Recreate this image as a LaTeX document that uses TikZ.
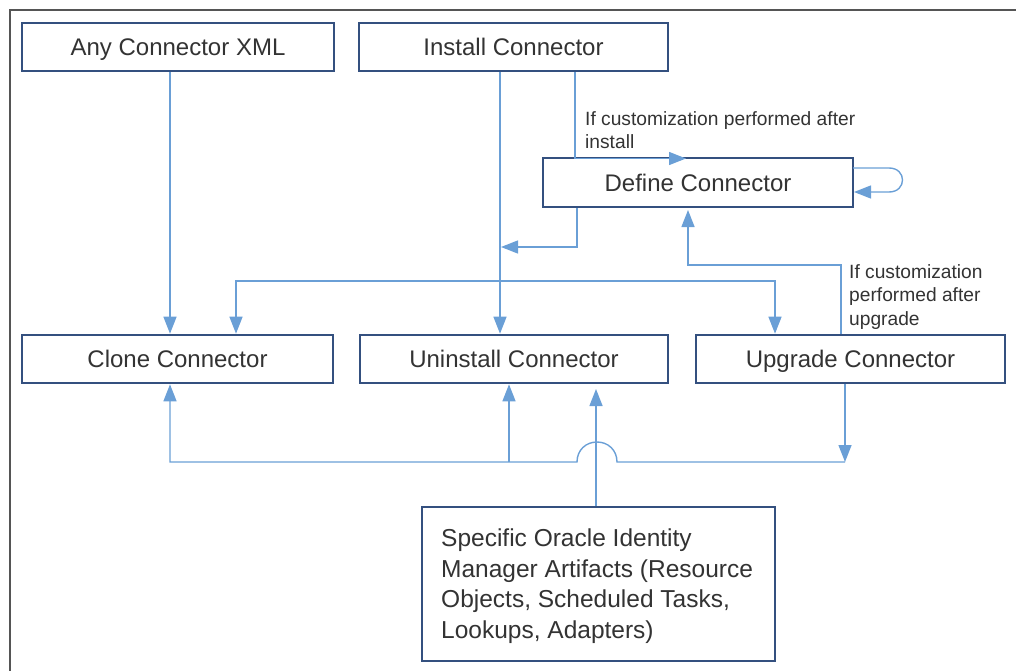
\documentclass[tikz,border=0pt]{standalone}
\usepackage{fontspec}
\setmainfont{Liberation Sans}
\usetikzlibrary{arrows.meta,calc}
\definecolor{boxline}{HTML}{34507F}
\definecolor{conncol}{HTML}{6A9FD6}
\definecolor{txt}{HTML}{333333}
\definecolor{frame}{HTML}{555555}
\tikzset{
  boxnode/.style={draw=boxline, line width=2.6pt, fill=white, minimum height=48pt, inner sep=0pt,
    text=txt, font=\fontsize{24}{28}\selectfont, text height=17.2pt, text depth=0pt},
  conn/.style={draw=conncol, line width=1.4pt},
  tip/.style={-{Triangle[length=17pt,width=13pt]}},
  lbl/.style={text=txt, font=\fontsize{19.2}{23.5}\selectfont, align=left, inner sep=0pt}
}
\begin{document}
\begin{tikzpicture}[x=1pt,y=-1pt]
\useasboundingbox (0,0) rectangle (1016,671);
\draw[frame, line width=1.5pt] (10,671) -- (10,10) -- (1016,10);

\node[boxnode, minimum width=312pt] (anyxml) at (178,47) {Any Connector XML};
\node[boxnode, minimum width=309pt] (install) at (513.5,47) {Install Connector};
\node[boxnode, minimum width=310pt, minimum height=49pt] (define) at (698,182.5) {Define Connector};
\node[boxnode, minimum width=311pt] (clone) at (177.5,359) {Clone Connector};
\node[boxnode, minimum width=308pt] (uninstall) at (514,359) {Uninstall Connector};
\node[boxnode, minimum width=309pt] (upgrade) at (850.5,359) {Upgrade Connector};
\node[boxnode, minimum width=353pt, minimum height=154pt] (specific) at (598.5,584) {};
\node[text=txt, align=left, anchor=north west, inner sep=0pt,
      font=\fontsize{24.5}{30.5}\selectfont] (spectext) at (441,529)
  {Specific Oracle Identity\\Manager Artifacts (Resource\\Objects, Scheduled Tasks,\\Lookups, Adapters)};

% x positions
\coordinate (xa) at (170,0);
\coordinate (xb) at (236,0);
\coordinate (xc) at (500,0);
\coordinate (xd) at (575,0);
\coordinate (xe) at (577,0);
\coordinate (xf) at (688,0);
\coordinate (xg) at (775,0);
\coordinate (xh) at (841,0);
\coordinate (xi) at (845,0);
\coordinate (xj) at (509,0);
\coordinate (xk) at (596,0);
% junctions
\coordinate (br) at (500,281);
\coordinate (dtip) at (686,158.5);
\coordinate (dleft) at (501,247);
\coordinate (uu) at (841,265);
\coordinate (ftip) at (688,210);
\coordinate (lo1) at (853,168);
\coordinate (lo2) at (854,192);
\coordinate (busR) at (845,462);
\coordinate (busJ) at (509,462);
\coordinate (ktip) at (596,389);

% connectors
\draw[conn,tip] (anyxml.south -| xa) -- (clone.north -| xa);
\draw[conn,tip] (install.south -| xc) -- (uninstall.north -| xc);
\draw[conn,tip] (br) -| (clone.north -| xb);
\draw[conn,tip] (br) -| (upgrade.north -| xg);
\draw[conn,tip] (install.south -| xd) |- (dtip);
\draw[conn,tip] (define.south -| xe) |- (dleft);
\draw[conn,tip] (lo1) -- (889,168) .. controls (907,168) and (907,192) .. (889,192) -- (lo2);
\draw[conn,tip] (upgrade.north -| xh) -- (uu) -| (ftip);
\draw[conn,tip] (upgrade.south -| xi) -- (busR);
\draw[conn,tip] (busR) -- (617,462) .. controls (617,450) and (608,442) .. (597,442)
  .. controls (586,442) and (577,450) .. (577,462) -- (170,462) -- (clone.south -| xa);
\draw[conn,tip] (busJ) -- (uninstall.south -| xj);
\draw[conn,tip] (specific.north -| xk) -- (ktip);

% labels
\node[lbl, anchor=north west] (lab1) at (585,111) {If customization performed after\\install};
\node[lbl, anchor=north west] (lab2) at (849,264) {If customization\\performed after\\upgrade};
\end{tikzpicture}
\end{document}
